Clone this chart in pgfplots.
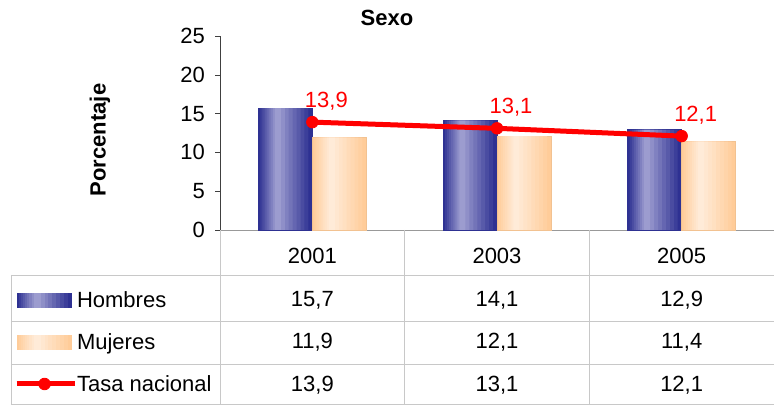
\documentclass[border=0pt]{standalone}
\usepackage{fontspec}
\setmainfont{Liberation Sans}
\usepackage{pgfplots}
\usepackage{pgfplotstable}
\pgfplotsset{compat=1.18}
\definecolor{hdark}{HTML}{2E3192}
\definecolor{hlight}{HTML}{9C9CCF}
\definecolor{mdark}{HTML}{FFCC99}
\definecolor{mlight}{HTML}{FFEBD8}
\definecolor{tasa}{HTML}{FF0000}
\definecolor{tabline}{HTML}{C8C8C8}

\pgfplotstableread{
x hombres mujeres tasa
0 15.7 11.9 13.9
1 14.1 12.1 13.1
2 12.9 11.4 12.1
}\datos

\pgfplotsset{
  hleg/.style={legend image code/.code={
    \fill[hdark] (0.5pt,-3.5pt) rectangle (27.5pt,3.5pt);
    \foreach \k in {1,...,8}{
      \pgfmathsetmacro\c{12.5*\k}
      \fill[hlight!\c!hdark] ({0.5pt+1.03pt*\k},-3.5pt) rectangle ({27.5pt-1.97pt*\k},3.5pt);}
  }},
  mleg/.style={legend image code/.code={
    \fill[mdark] (0.5pt,-3.5pt) rectangle (27.5pt,3.5pt);
    \foreach \k in {1,...,8}{
      \pgfmathsetmacro\c{12.5*\k}
      \fill[mlight!\c!mdark] ({0.5pt+1.03pt*\k},-3.5pt) rectangle ({27.5pt-1.97pt*\k},3.5pt);}
  }},
  lineleg/.style={legend image code/.code={\draw[##1, mark repeat=2, mark phase=2] plot coordinates {(0pt,0pt) (14pt,0pt) (29pt,0pt)};}},
}

\begin{document}
\begin{tikzpicture}[font=\fontsize{11}{12}\selectfont]
\useasboundingbox (-110pt,-90pt) rectangle (277pt,115pt);
\begin{axis}[
  at={(0pt,0pt)}, anchor=south west,
  scale only axis, width=277pt, height=97pt,
  xmin=-0.5, xmax=2.5, ymin=0, ymax=25,
  xtick={0,1,2}, xticklabels={2001,2003,2005},
  x tick label style={anchor=center, yshift=-10.4pt},
  major x tick style={draw=none},
  ytick={0,5,...,25},
  yticklabel style={xshift=-1.5pt},
  tick align=outside, major tick length=2.5pt,
  axis x line*=bottom, axis y line*=left,
  x axis line style={draw=black!40},
  y axis line style={draw=black!75},
  ytick style={draw=black!75},
  /pgf/number format/assume math mode=true,
  ylabel={\bfseries Porcentaje},
  ylabel style={at={(axis description cs:-0.2166,0.464)}, anchor=center},
  title={\bfseries Sexo},
  every axis title shift=0pt,
  title style={at={(axis description cs:0.3014,1.095)}, anchor=center},
  legend style={at={(-0.3718,-0.3201)}, anchor=north west, draw=none, fill=none,
    inner sep=0pt, outer sep=0pt, row sep=13.1pt, column sep=0pt,
    nodes={inner sep=0pt, text height=7.9pt, text depth=0pt}},
  legend cell align=left,
  clip=false]
% Hombres: layered bars give the cylinder shading
\addplot[ybar, bar width=27pt, bar shift=-13.5pt, draw=hdark, fill=hdark, hleg]
  table[x=x, y=hombres] {\datos};
\addlegendentry{Hombres}
\pgfplotsinvokeforeach{1,...,8}{
  \addplot[ybar, forget plot, draw=none, fill=hlight!\number\numexpr 125*#1/10\relax!hdark,
    bar width=\number\numexpr 27-3*#1\relax pt, bar shift={-13.5pt-0.47pt*#1}]
    table[x=x, y=hombres] {\datos};
}
% Mujeres
\addplot[ybar, bar width=27pt, bar shift=13.5pt, draw=mdark!95!black, fill=mdark, mleg]
  table[x=x, y=mujeres] {\datos};
\addlegendentry{Mujeres}
\pgfplotsinvokeforeach{1,...,8}{
  \addplot[ybar, forget plot, draw=none, fill=mlight!\number\numexpr 125*#1/10\relax!mdark,
    bar width=\number\numexpr 27-3*#1\relax pt, bar shift={13.5pt-0.47pt*#1}]
    table[x=x, y=mujeres] {\datos};
}
% Tasa nacional
\addplot[sharp plot, color=tasa, line width=2.5pt, mark=*, mark size=2.9pt,
  mark options={solid, fill=tasa, line width=0.4pt}, lineleg,
  nodes near coords={\pgfmathprintnumber[use comma,fixed,fixed zerofill,precision=1]{\pgfplotspointmeta}},
  nodes near coords style={anchor=base, xshift=7pt, yshift=7.5pt, text=tasa}]
  table[x=x, y=tasa] {\datos};
\addlegendentry{Tasa nacional}
\end{axis}
% data table below the chart
\draw[tabline] (-104.5pt,-22.5pt) -- (277pt,-22.5pt);
\draw[tabline] (-104.5pt,-45.5pt) -- (277pt,-45.5pt);
\draw[tabline] (-104.5pt,-67pt) -- (277pt,-67pt);
\draw[tabline] (-104.5pt,-87pt) -- (277pt,-87pt);
\draw[tabline] (-104.5pt,-22.5pt) -- (-104.5pt,-87pt);
\draw[tabline] (0pt,0pt) -- (0pt,-87pt);
\draw[tabline] (92.33pt,0pt) -- (92.33pt,-87pt);
\draw[tabline] (184.67pt,0pt) -- (184.67pt,-87pt);
\foreach \x/\a/\b/\c in {46.17/{15,7}/{11,9}/{13,9}, 138.5/{14,1}/{12,1}/{13,1}, 230.83/{12,9}/{11,4}/{12,1}}{
  \node at (\x pt,-35pt) {\a};
  \node at (\x pt,-56pt) {\b};
  \node at (\x pt,-77.5pt) {\c};
}
\end{tikzpicture}
\end{document}
